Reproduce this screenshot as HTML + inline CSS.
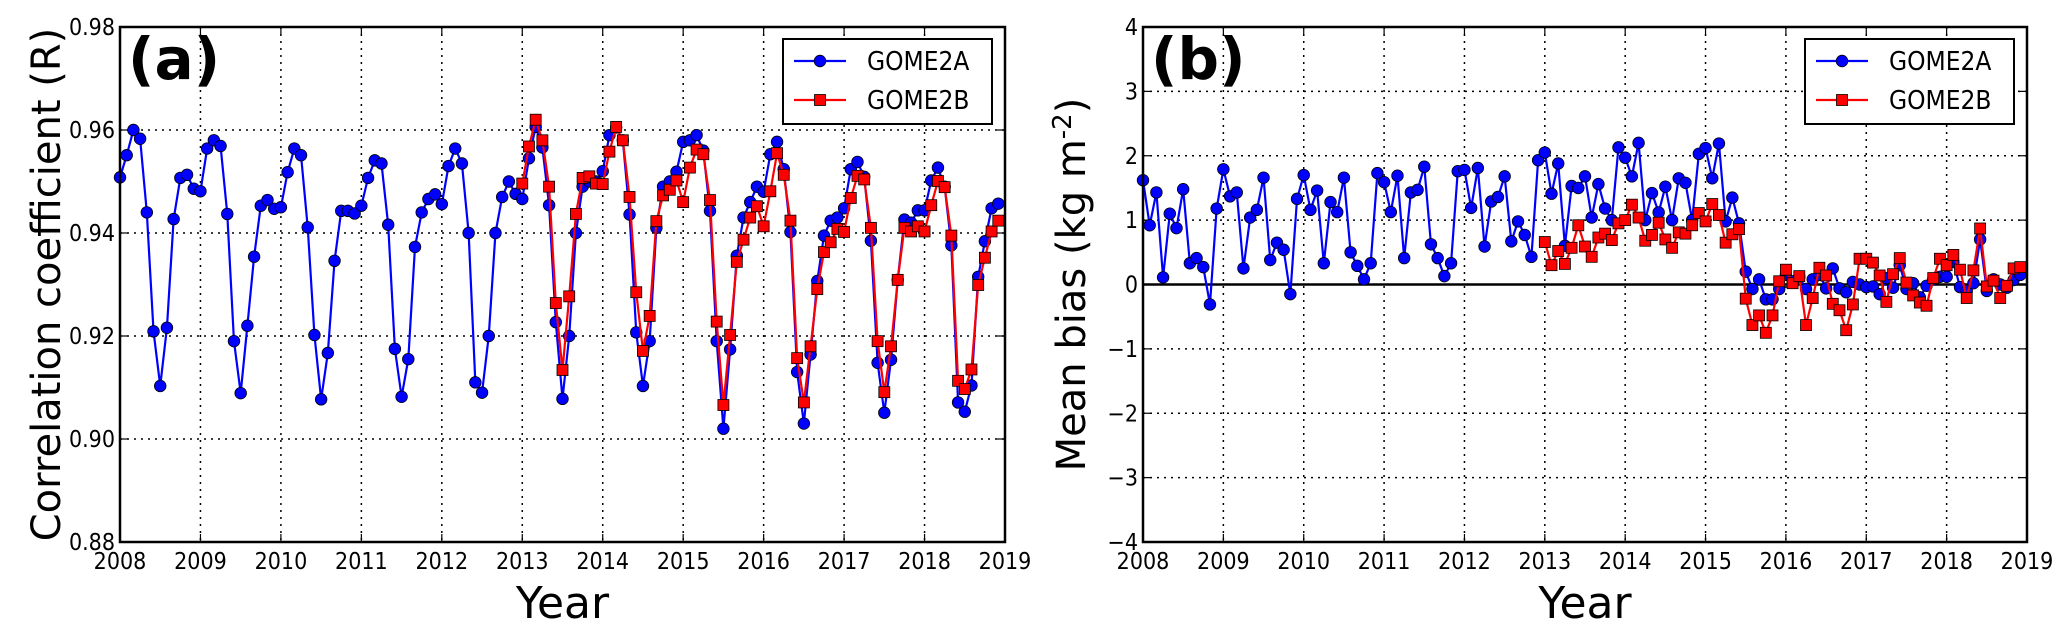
<!DOCTYPE html>
<html><head><meta charset="utf-8"><style>
html,body{margin:0;padding:0;background:#fff;}
svg{display:block;}
text{font-family:"DejaVu Sans","Liberation Sans",sans-serif;fill:#000;}
.tick{font-family:"DejaVu Sans Condensed","Liberation Sans Narrow","Liberation Sans",sans-serif;font-size:23px;}
</style></head><body>
<svg id="fig" width="2067" height="629" viewBox="0 0 2067 629"></svg>
<script>
const years = [2008,2009,2010,2011,2012,2013,2014,2015,2016,2017,2018,2019];
const corrTicks = [0.88,0.90,0.92,0.94,0.96,0.98];
const corrTickLabels = ["0.88","0.90","0.92","0.94","0.96","0.98"];
const biasTicks = [-4,-3,-2,-1,0,1,2,3,4];
const biasTickLabels = ["\u22124","\u22123","\u22122","\u22121","0","1","2","3","4"];
const startA = 2008, startB = 2013;
const corrA = [
.9508,.9551,.960,.9583,.944,.9209,.9103,.9216,.9427,.9507,.9513,.9486,
.9481,.9564,.958,.9569,.9437,.919,.9089,.922,.9354,.9453,.9464,.9447,
.945,.9518,.9564,.9551,.9411,.9202,.9077,.9167,.9346,.9443,.9443,.9438,
.9453,.9507,.9541,.9535,.9416,.9175,.9082,.9155,.9373,.944,.9466,.9475,
.9456,.953,.9564,.9535,.940,.911,.909,.920,.940,.947,.950,.9476,
.9466,.9545,.9606,.9566,.9454,.9227,.9078,.920,.940,.949,.950,.950,
.952,.959,.9605,.958,.9436,.9207,.9103,.919,.941,.949,.950,.9519,
.9577,.958,.959,.956,.9443,.919,.902,.9174,.9356,.943,.946,.949,
.948,.9553,.9577,.9524,.9402,.913,.903,.9164,.9307,.9395,.9424,.943,
.9448,.9524,.9538,.9509,.9385,.9148,.9051,.9154,.9309,.9426,.942,.9444,
.9444,.9502,.9527,.949,.9376,.9071,.9053,.9104,.9315,.9384,.9448,.9457];
const corrB = [
.9496,.9568,.962,.958,.949,.9264,.9134,.9277,.9437,.9507,.951,.9496,
.9495,.9558,.9606,.958,.947,.9285,.9171,.9239,.9423,.9473,.9484,.9502,
.946,.9527,.9562,.9553,.9464,.9228,.9066,.9202,.9344,.9387,.943,.9452,
.9413,.9481,.9555,.9513,.9424,.9157,.9071,.918,.9291,.9363,.9382,.9408,
.9402,.9468,.9511,.9504,.941,.919,.9091,.918,.9309,.941,.9403,.9413,
.9403,.9454,.9501,.9489,.9395,.9113,.9097,.9135,.9299,.9352,.9403,.9424];
const biasA = [
1.62,.92,1.43,.11,1.10,.875,1.48,.33,.41,.27,-.31,1.18,
1.79,1.37,1.43,.25,1.04,1.16,1.66,.38,.65,.54,-.15,1.33,
1.70,1.16,1.46,.33,1.28,1.125,1.66,.5,.29,.08,.33,1.73,
1.59,1.125,1.69,.41,1.43,1.47,1.83,.625,.41,.13,.33,1.76,
1.78,1.19,1.81,.59,1.29,1.36,1.68,.67,.98,.77,.43,1.93,
2.05,1.41,1.88,.6,1.53,1.5,1.68,1.04,1.56,1.18,1.0,2.13,
1.97,1.68,2.2,1.0,1.42,1.12,1.52,1.0,1.65,1.58,1.0,2.03,
2.12,1.65,2.19,.98,1.35,.95,.2,-.07,.08,-.23,-.23,-.07,
.15,.05,.12,-.07,.08,.15,-.06,.25,-.06,-.12,.04,0,
-.04,-.03,-.15,.1,-.05,.3,-.07,.02,-.2,-.02,.08,.12,
.12,.35,-.04,-.1,.02,.7,-.1,.08,0,-.05,.07,.15];
const biasB = [
.66,.3,.52,.32,.57,.92,.59,.43,.73,.79,.69,.95,
1.0,1.24,1.04,.68,.77,.96,.7,.57,.81,.79,.92,1.11,
.98,1.25,1.08,.65,.78,.86,-.22,-.63,-.48,-.75,-.48,.05,
.23,.02,.13,-.63,-.21,.26,.14,-.3,-.4,-.71,-.31,.4,
.4,.34,.14,-.27,.16,.41,.03,-.17,-.28,-.33,.1,.4,
.3,.46,.23,-.21,.22,.87,-.03,.06,-.21,-.02,.25,.27];

const NS='http://www.w3.org/2000/svg';
const fig=document.getElementById('fig');
function mk(tag,attrs,parent){const e=document.createElementNS(NS,tag);for(const k in attrs)e.setAttribute(k,attrs[k]);(parent||fig).appendChild(e);return e;}

function panel(o){
  const g=mk('g',{});
  
  
  const X=t=>o.x0+(t-2008)/11*(o.x1-o.x0);
  const Y=v=>o.y1-(v-o.vmin)/(o.vmax-o.vmin)*(o.y1-o.y0);
  // grid
  years.forEach(yr=>{const l=mk('line',{x1:X(yr),x2:X(yr),y1:o.y0,y2:o.y1,stroke:'#000','stroke-width':1.5,'stroke-dasharray':'2,5'},g);
    
    });
  o.ticks.forEach(v=>{const l=mk('line',{x1:o.x0,x2:o.x1,y1:Y(v),y2:Y(v),stroke:'#000','stroke-width':1.5,'stroke-dasharray':'2,5'},g);
    
    });
  if(o.zero){const z=mk('line',{x1:o.x0,x2:o.x1,y1:Y(0),y2:Y(0),stroke:'#000','stroke-width':2.5},g);
    
    }
  // ticks + labels
  years.forEach(yr=>{
    mk('line',{x1:X(yr),x2:X(yr),y1:o.y1,y2:o.y1-8,stroke:'#000','stroke-width':1.2},g);
    mk('line',{x1:X(yr),x2:X(yr),y1:o.y0,y2:o.y0+8,stroke:'#000','stroke-width':1.2},g);
    const t=mk('text',{x:X(yr),y:o.y1+27,'text-anchor':'middle',class:'tick'},g);t.textContent=yr;
    
    });
  o.ticks.forEach((v,i)=>{
    mk('line',{x1:o.x0,x2:o.x0+8,y1:Y(v),y2:Y(v),stroke:'#000','stroke-width':1.2},g);
    mk('line',{x1:o.x1,x2:o.x1-8,y1:Y(v),y2:Y(v),stroke:'#000','stroke-width':1.2},g);
    const t=mk('text',{x:o.x0-5,y:Y(v)+8,'text-anchor':'end',class:'tick'},g);t.textContent=o.labels[i];
    
    });
  // series
  function series(vals,start,color,shape,name){
    const sg=mk('g',{},g);
    
    
    const pts=vals.map((v,i)=>[X(start+i/12),Y(v)]);
    mk('polyline',{points:pts.map(p=>p.join(',')).join(' '),fill:'none',stroke:color,'stroke-width':2.2},sg);
    pts.forEach(p=>{let m;
      if(shape==='c')m=mk('circle',{cx:p[0],cy:p[1],r:5.8,fill:color,stroke:'#000','stroke-width':0.8},sg);
      else m=mk('rect',{x:p[0]-5.5,y:p[1]-5.5,width:11,height:11,fill:color,stroke:'#000','stroke-width':0.8},sg);
      
      });
  }
  series(o.a,startA,'#0000ff','c','gome2a-series');
  series(o.b,startB,'#ff0000','s','gome2b-series');
  // frame
  const f=mk('rect',{x:o.x0,y:o.y0,width:o.x1-o.x0,height:o.y1-o.y0,fill:'none',stroke:'#000','stroke-width':2.5},g);
  
  
  // panel label
  const pl=mk('text',{x:o.x0+8,y:o.y0+52,'font-size':58,'font-weight':'bold'},g);pl.textContent=o.tag;
  
  
  // legend
  const lg=mk('g',{},g);
  
  
  const lx=o.x1-222, ly=o.y0+12;
  mk('rect',{x:lx,y:ly,width:209,height:85,fill:'#fff',stroke:'#000','stroke-width':2},lg);
  [['GOME2A','#0000ff','c'],['GOME2B','#ff0000','s']].forEach((e,i)=>{
    const yy=ly+22+i*39;
    const eg=mk('g',{},lg);
    
    
    mk('line',{x1:lx+11,x2:lx+63,y1:yy,y2:yy,stroke:e[1],'stroke-width':2.2},eg);
    if(e[2]==='c')mk('circle',{cx:lx+37,cy:yy,r:5.8,fill:e[1],stroke:'#000','stroke-width':0.8},eg);
    else mk('rect',{x:lx+31.5,y:yy-5.5,width:11,height:11,fill:e[1],stroke:'#000','stroke-width':0.8},eg);
    const t=mk('text',{x:lx+84,y:yy+9,'font-size':25,class:'tick'},eg);t.textContent=e[0];t.style.fontSize='26px';
  });
  // axis titles
  const xt=mk('text',{x:(o.x0+o.x1)/2,y:618,'text-anchor':'middle','font-size':44},g);xt.textContent='Year';
  
  
  const yt=mk('text',{x:0,y:0,'text-anchor':'middle','font-size':40,transform:`translate(${o.ytx},${(o.y0+o.y1)/2}) rotate(-90)`},g);
  
  
  if(o.id==='a'){yt.textContent='Correlation coefficient (R)';}
  else{yt.textContent='Mean bias (kg m';const s=mk('tspan',{dy:-14,'font-size':26},yt);s.textContent='-2';const s2=mk('tspan',{dy:14},yt);s2.textContent=')';}
}
panel({id:'a',tag:'(a)',x0:120,x1:1005,y0:27,y1:542,vmin:0.88,vmax:0.98,ticks:corrTicks,labels:corrTickLabels,a:corrA,b:corrB,ytx:60,zero:false});
panel({id:'b',tag:'(b)',x0:1143,x1:2027,y0:27,y1:542,vmin:-4,vmax:4,ticks:biasTicks,labels:biasTickLabels,a:biasA,b:biasB,ytx:1085,zero:true});
</script>
</body></html>
